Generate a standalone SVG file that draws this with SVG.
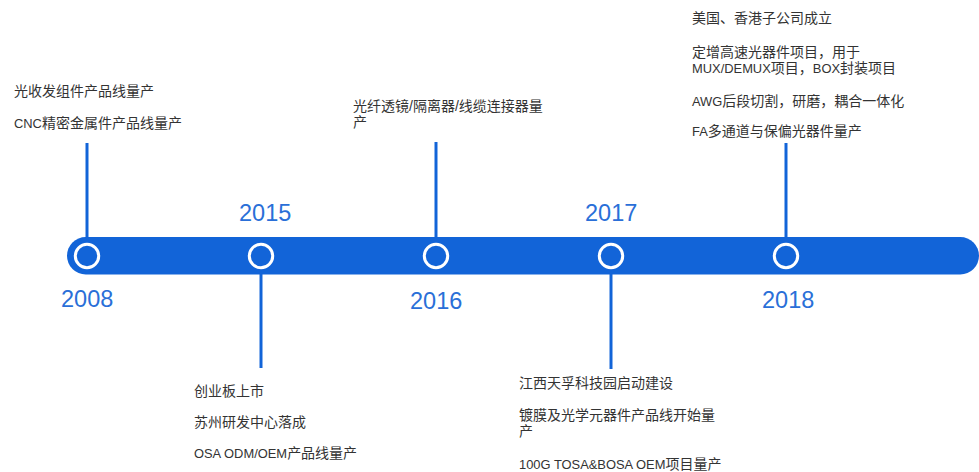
<svg xmlns="http://www.w3.org/2000/svg" width="979" height="472" viewBox="0 0 979 472">
<style>
.bar{fill:#1264d8}
.stem{stroke:#1264d8;stroke-width:3;fill:none}
.dot{fill:none;stroke:#ffffff;stroke-width:3}
.year{font-family:"Liberation Sans","Noto Sans",sans-serif;font-size:23.5px;fill:#2a6fd8}
.t{font-family:"Liberation Sans","Noto Sans CJK SC",sans-serif;font-size:14px;fill:#333333}
.l{font-size:12.9px}
</style>
<rect width="979" height="472" fill="#ffffff"/>
<g id="timeline-bar">
<rect class="bar" x="67" y="237" width="912" height="37.5" rx="18.75"/>
</g>
<g id="connectors">
<line class="stem" x1="87" y1="143" x2="87" y2="238"/>
<line class="stem" x1="261" y1="273" x2="261" y2="368"/>
<line class="stem" x1="436" y1="142" x2="436" y2="238"/>
<line class="stem" x1="611" y1="273" x2="611" y2="369"/>
<line class="stem" x1="786" y1="143" x2="786" y2="238"/>
</g>
<g id="node-2008">
<circle class="dot" cx="87" cy="256" r="11.7"/>
<text class="year" x="61" y="307">2008</text>
<text class="t" x="14" y="96">光收发组件产品线量产</text>
<text class="t" x="14" y="128"><tspan class="l">CNC</tspan>精密金属件产品线量产</text>
</g>
<g id="node-2015">
<circle class="dot" cx="261" cy="256" r="11.7"/>
<text class="year" x="239" y="221">2015</text>
<text class="t" x="194" y="396">创业板上市</text>
<text class="t" x="194" y="427">苏州研发中心落成</text>
<text class="t" x="194" y="458"><tspan class="l">OSA ODM/OEM</tspan>产品线量产</text>
</g>
<g id="node-2016">
<circle class="dot" cx="436" cy="256" r="11.7"/>
<text class="year" x="410" y="309">2016</text>
<text class="t" x="353" y="111">光纤透镜/隔离器/线缆连接器量</text>
<text class="t" x="353" y="127">产</text>
</g>
<g id="node-2017">
<circle class="dot" cx="611" cy="256" r="11.7"/>
<text class="year" x="585" y="221">2017</text>
<text class="t" x="519" y="388">江西天孚科技园启动建设</text>
<text class="t" x="519" y="420">镀膜及光学元器件产品线开始量</text>
<text class="t" x="519" y="436">产</text>
<text class="t" x="519" y="469"><tspan class="l">100G TOSA&amp;BOSA OEM</tspan>项目量产</text>
</g>
<g id="node-2018">
<circle class="dot" cx="786" cy="256" r="11.7"/>
<text class="year" x="762" y="308">2018</text>
<text class="t" x="692" y="23">美国、香港子公司成立</text>
<text class="t" x="692" y="57">定增高速光器件项目，用于</text>
<text class="t" x="692" y="73"><tspan class="l">MUX/DEMUX</tspan>项目，<tspan class="l">BOX</tspan>封装项目</text>
<text class="t" x="692" y="106"><tspan class="l">AWG</tspan>后段切割，研磨，耦合一体化</text>
<text class="t" x="692" y="136"><tspan class="l">FA</tspan>多通道与保偏光器件量产</text>
</g>
</svg>
